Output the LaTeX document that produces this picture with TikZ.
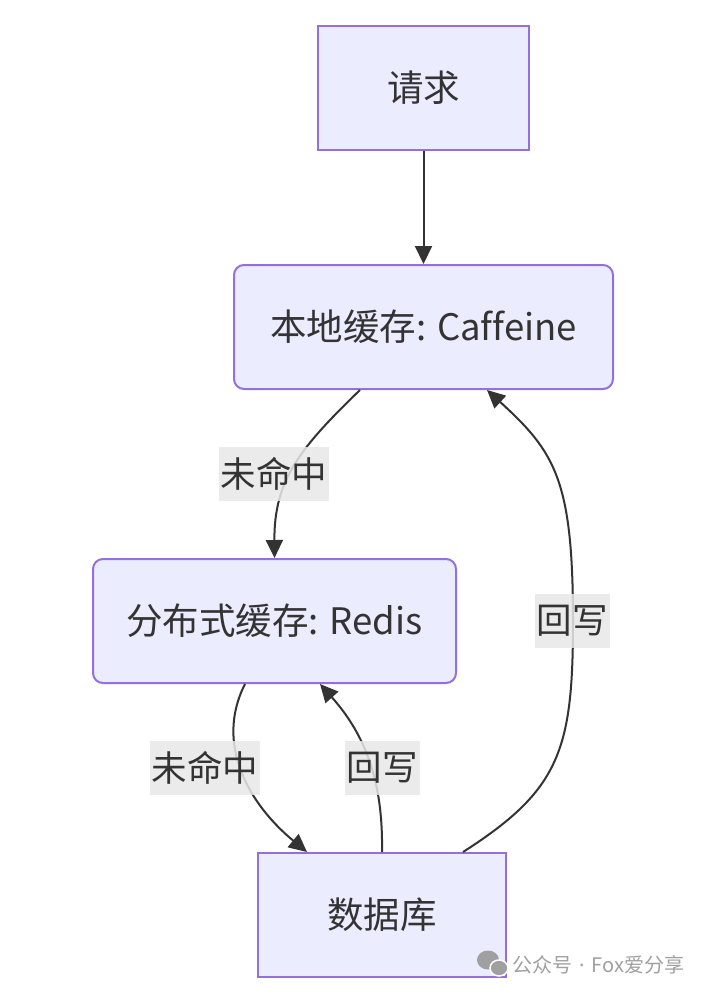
\documentclass[tikz,border=0pt]{standalone}
\usepackage{fontspec}
\setmainfont[Ligatures=NoCommon]{Noto Sans CJK SC}
\newfontfamily\dotfont{Noto Sans}
\usetikzlibrary{arrows.meta,positioning}
\definecolor{nodefill}{HTML}{ECECFF}
\definecolor{nodeline}{HTML}{9370DB}
\definecolor{edgecol}{HTML}{333333}
\definecolor{lblfill}{HTML}{E8E8E8}
\definecolor{wmgray}{HTML}{A0A0A0}
\begin{document}
\begin{tikzpicture}[x=1pt,y=-1pt,
  box/.style={draw=nodeline,fill=nodefill,line width=2pt,minimum height=124pt,
    inner sep=0pt,font=\fontsize{36.5}{42}\selectfont,text=edgecol},
  rbox/.style={box,rounded corners=10pt},
  edge/.style={draw=edgecol,line width=2pt,-{Triangle[length=18pt,width=17pt]}},
  lbl/.style={fill=lblfill,fill opacity=0.85,text opacity=1,inner xsep=2pt,inner ysep=0pt,
    minimum height=54pt,font=\fontsize{35.5}{40}\selectfont,text=edgecol}]
\useasboundingbox[fill=white] (0,0) rectangle (714,994);
\node[box,minimum width=211pt] (req) at (423.5,88) {请求};
\node[rbox,minimum width=379pt] (local) at (423.5,327) {本地缓存: Caffeine};
\node[rbox,minimum width=363pt] (redis) at (274.5,621) {分布式缓存: Redis};
\node[box,minimum width=248pt] (db) at (382,915) {数据库};
% edges
\draw[edge] (req.south) -- (local.north);
\draw[edge] ([xshift=-63.5pt]local.south) .. controls (300,448) and (274,480) .. (redis.north);
\draw[edge] ([xshift=-29.5pt]redis.south) .. controls (214,745) and (250,805) .. ([xshift=-75pt]db.north);
\draw[edge] (db.north) .. controls (383,790) and (370,740) .. ([xshift=45.5pt]redis.south);
\draw[edge] ([xshift=81pt]db.north) .. controls (560,790) and (573,750) .. (573,621)
  .. controls (573,480) and (555,452) .. ([xshift=63.5pt]local.south);
% labels
\node[lbl] (l1) at (274,474) {未命中};
\node[lbl] (l2) at (205,768) {未命中};
\node[lbl] (l3) at (382,768) {回写};
\node[lbl] (l4) at (572,621) {回写};
% watermark
\fill[wmgray] (488,960) ellipse [x radius=11pt,y radius=9.5pt];
\fill[wmgray,draw=white,line width=1.5pt] (499,968) ellipse [x radius=9pt,y radius=8pt];
\node[anchor=west,inner sep=0pt,text=wmgray,font=\fontsize{20}{24}\selectfont] (wm) at (512,965) {公众号{\dotfont\hspace{7pt}·\hspace{7pt}}Fox爱分享};
\end{tikzpicture}
\end{document}
